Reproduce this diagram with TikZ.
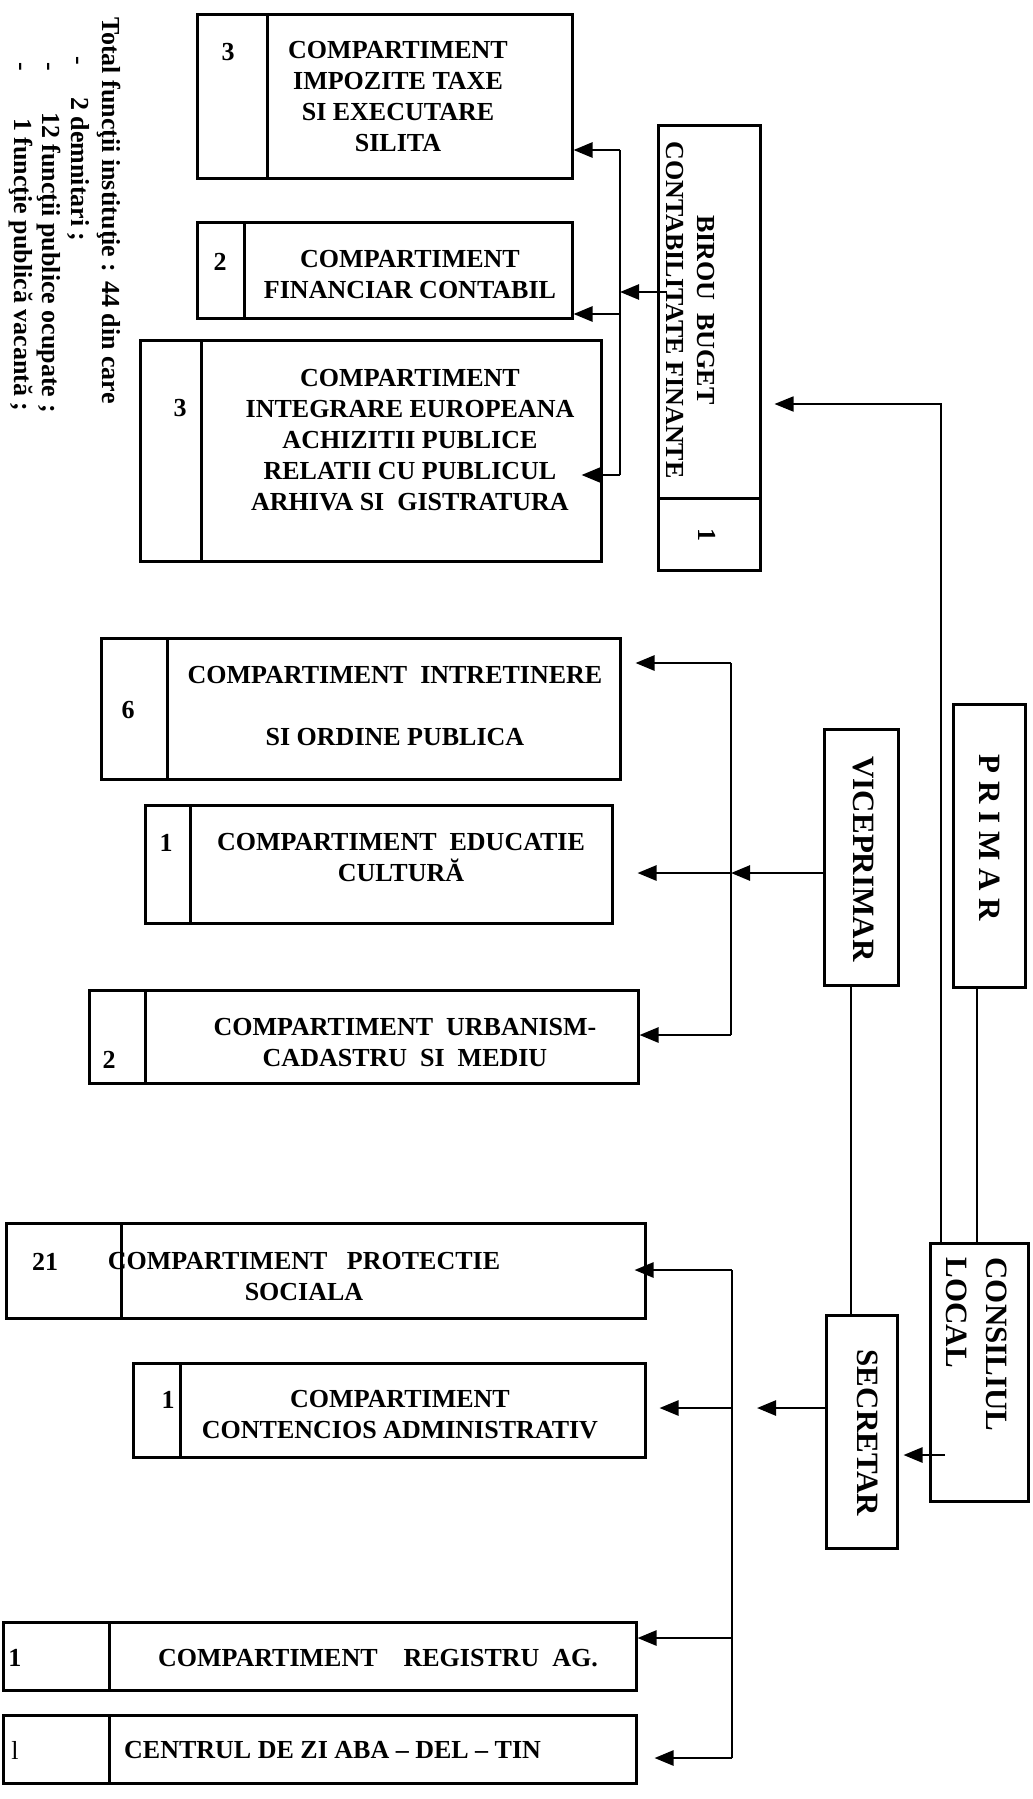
\documentclass[tikz,border=0pt]{standalone}
\usepackage{fontspec}
\setmainfont{Liberation Serif}
\usetikzlibrary{arrows.meta,fit}

\tikzset{
    cellbox/.style={draw, line width=3pt, inner sep=0pt},
    txt/.style={align=center},
    bigtxt/.style={rotate=-90, align=center, font=\bfseries\fontsize{31}{40}\selectfont},
    note/.style={rotate=-90, inner sep=0pt, anchor=base west},
    conn/.style={line width=2.6pt},
    thinconn/.style={line width=1.8pt}
}

\begin{document}
\begin{tikzpicture}[x=1pt, y=-1pt, font=\bfseries\fontsize{26}{31}\selectfont,
    >={Triangle[length=19pt,width=15pt]}]

    \path[use as bounding box, fill=white] (0,0) rectangle (1033,1799);

% note
    \node[note] (total) at (102,17) {Total funcţii instituţie : 44 din care};
    \foreach \xb/\yd/\yb/\txt [count=\i] in {71/56/97/2 demnitari ;, 42/62/112/12 funcţii publice ocupate ;, 14/62/118/1 funcţie publică vacantă ;}{
        \node[note] (dash\i) at (\xb,\yd) {-};
        \node[note] (item\i) at (\xb,\yb) {\txt};
    }

% birou buget
    \node[cellbox, fit={(658,125) (760,498)}] (birou) {};
    \node[cellbox, fit={(658,498) (760,570)}] (birounr) {};
    \node[rotate=-90, align=center] (birtxt) at (690,310) {BIROU\ \ BUGET\\CONTABILITATE FINANTE};
    \node[rotate=-90] (birnr) at (707,535) {1};

    \node[cellbox, fit={(197,14) (267,178)}] (impnr) {};
    \node[cellbox, fit={(267,14) (572,178)}] (imp) {};
    \node[txt] (imptxt) at (398,97) {COMPARTIMENT\\IMPOZITE TAXE\\SI EXECUTARE\\SILITA};

    \node[cellbox, fit={(197,222) (244,318)}] (finnr) {};
    \node[cellbox, fit={(244,222) (572,318)}] (fin) {};
    \node[txt] (fintxt) at (410,275) {COMPARTIMENT\\FINANCIAR CONTABIL};

    \node[cellbox, fit={(140,340) (201,561)}] (intnr) {};
    \node[cellbox, fit={(201,340) (601,561)}] (int) {};
    \node[txt] (inttxt) at (410,440) {COMPARTIMENT\\INTEGRARE EUROPEANA\\ACHIZITII PUBLICE\\RELATII CU PUBLICUL\\ARHIVA SI\ \ GISTRATURA};

% viceprimar
    \node[cellbox, fit={(101,638) (167,779)}] (intrnr) {};
    \node[cellbox, fit={(167,638) (620,779)}] (intr) {};
    \node[txt] (intrtxt) at (395,706) {COMPARTIMENT\ \ INTRETINERE\\[31pt]SI ORDINE PUBLICA};

    \node[cellbox, fit={(145,805) (190,923)}] (edunr) {};
    \node[cellbox, fit={(190,805) (612,923)}] (edu) {};
    \node[txt] (edutxt) at (401,858) {COMPARTIMENT\ \ EDUCATIE\\CULTURĂ};

    \node[cellbox, fit={(89,990) (145,1083)}] (urbnr) {};
    \node[cellbox, fit={(145,990) (638,1083)}] (urb) {};
    \node[txt] (urbtxt) at (405,1043) {COMPARTIMENT\ \ URBANISM-\\CADASTRU\ \ SI\ \ MEDIU};

% secretar
    \node[txt] (prottxt) at (304,1277) {COMPARTIMENT\ \ \ PROTECTIE\\SOCIALA};
    \node[cellbox, fit={(6,1223) (121,1318)}] (protnr) {};
    \node[cellbox, fit={(121,1223) (645,1318)}] (prot) {};

    \node[cellbox, fit={(133,1363) (180,1457)}] (contnr) {};
    \node[cellbox, fit={(180,1363) (645,1457)}] (cont) {};
    \node[txt] (conttxt) at (400,1415) {COMPARTIMENT\\CONTENCIOS ADMINISTRATIV};

    \node[cellbox, fit={(3,1622) (109,1690)}] (regnr) {};
    \node[cellbox, fit={(109,1622) (636,1690)}] (reg) {};
    \node (regtxt) at (378,1658) {COMPARTIMENT\ \ \ \ REGISTRU\ \ AG.};

    \node[cellbox, fit={(3,1715) (109,1783)}] (cennr) {};
    \node[cellbox, fit={(109,1715) (636,1783)}] (cen) {};
    \node[anchor=west, inner sep=0pt] (centxt) at (124,1750) {CENTRUL DE ZI ABA – DEL – TIN};

% numbers
    \foreach \xn/\yn/\nr [count=\i] in {228/52/3, 220/262/2, 180/408/3, 128/710/6, 166/843/1, 109/1060/2, 45/1262/21, 168/1400/1, 15/1658/1}
        \node (nr\i) at (\xn,\yn) {\nr};
    \node (nr10) at (15,1750) {\mdseries l};

% conducere
    \node[cellbox, fit={(953,704) (1025,987)}] (primar) {};
    \node[bigtxt] (primtxt) at (990,838) {P R I M A R};
    \node[cellbox, fit={(824,729) (898,985)}] (vice) {};
    \node[bigtxt] (vicetxt) at (864,859) {VICEPRIMAR};
    \node[cellbox, fit={(930,1243) (1028,1501)}] (cons) {};
    \node[bigtxt, align=left, anchor=west] (constxt) at (977,1254) {CONSILIUL\\LOCAL};
    \node[cellbox, fit={(826,1315) (897,1548)}] (sec) {};
    \node[bigtxt] (sectxt) at (868,1433) {SECRETAR};

% arrows
    \coordinate (b1a) at (620,150);
    \coordinate (b1b) at (620,292);
    \coordinate (b1c) at (620,314);
    \coordinate (b1d) at (620,475);
    \draw[conn] (b1a) -- (b1d);
    \draw[conn,->] (b1a) -- (imp.east |- b1a);
    \draw[conn,->] (b1c) -- (fin.east |- b1c);
    \draw[conn,->,shorten >=-21pt] (b1d) -- (int.east |- b1d);
    \draw[conn,->,shorten <=-10pt] (birou.west |- b1b) -- (b1b);

    \coordinate (c1) at (941,404);
    \draw[thinconn,->,shorten >=13pt] (cons.north -| c1) -- (c1) -- (birou.east |- c1);
    \coordinate (pc) at (977,0);
    \draw[thinconn] (primar.south -| pc) -- (cons.north -| pc);
    \coordinate (vc) at (851,0);
    \draw[thinconn] (vice.south -| vc) -- (sec.north -| vc);

    \coordinate (b2a) at (731,663);
    \coordinate (b2b) at (731,873);
    \coordinate (b2c) at (731,1035);
    \draw[conn] (b2a) -- (b2c);
    \draw[conn,->] (vice.west |- b2b) -- (b2b);
    \draw[conn,->,shorten >=14pt] (b2a) -- (intr.east |- b2a);
    \draw[conn,->,shorten >=24pt] (b2b) -- (edu.east |- b2b);
    \draw[conn,->] (b2c) -- (urb.east |- b2c);

    \coordinate (cs) at (945,1455);
    \draw[conn,->,shorten >=5pt] (cs) -- (sec.east |- cs);
    \coordinate (sc) at (757,1408);
    \draw[conn,->] (sec.west |- sc) -- (sc);

    \coordinate (b3a) at (732,1270);
    \coordinate (b3b) at (732,1408);
    \coordinate (b3c) at (732,1638);
    \coordinate (b3d) at (732,1758);
    \draw[conn] (b3a) -- (b3d);
    \draw[conn,->,shorten >=-12pt] (b3a) -- (prot.east |- b3a);
    \draw[conn,->,shorten >=13pt] (b3b) -- (cont.east |- b3b);
    \draw[conn,->] (b3c) -- (reg.east |- b3c);
    \draw[conn,->,shorten >=17pt] (b3d) -- (cen.east |- b3d);

\end{tikzpicture}
\end{document}
